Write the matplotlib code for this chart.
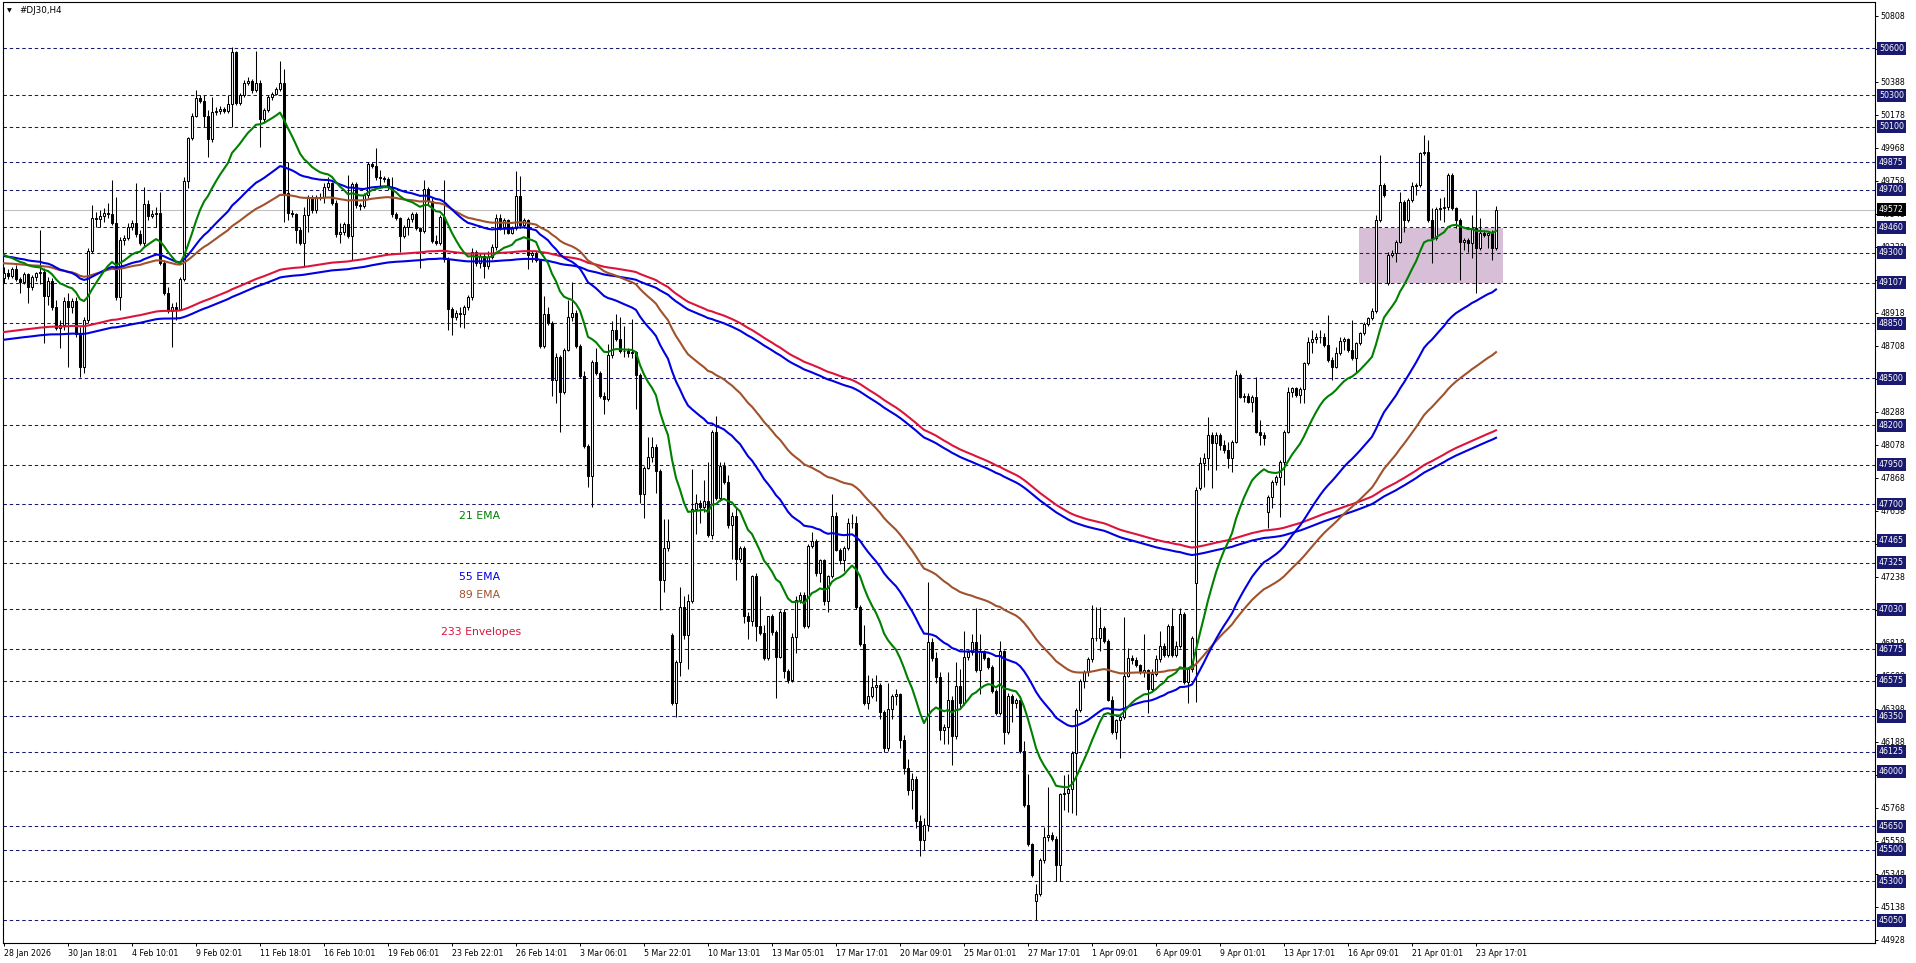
import numpy as np
import matplotlib
matplotlib.use("Agg")
import matplotlib.pyplot as plt
from matplotlib.patches import Rectangle
from matplotlib.transforms import blended_transform_factory

# ---------------- data ----------------
opens = [
49136,49172,49151,49193,49130,49115,49164,49079,49142,49168,
49178,49024,49121,48951,48818,48839,48994,48951,48994,48782,
48570,48871,49312,49518,49511,49533,49554,49545,49490,49019,
49380,49390,49465,49486,49418,49359,49609,49533,49545,49554,
49236,49040,48930,48956,48939,49130,49757,50027,50169,50281,
50266,50169,50020,50196,50203,50211,50203,50245,50578,50249,
50302,50381,50394,50334,50381,50148,50207,50292,50309,50338,
50381,49681,49554,49545,49444,49363,49539,49645,49571,49651,
49656,49719,49745,49617,49418,49433,49482,49405,49736,49603,
49596,49666,49863,49851,49783,49772,49766,49719,49545,49518,
49405,49460,49511,49545,49454,49440,49702,49630,49376,49363,
49528,49257,48939,48888,48917,48909,48951,49015,49305,49235,
49280,49217,49273,49335,49523,49462,49507,49426,49455,49660,
49478,49507,49285,49296,49251,48705,48910,48853,48489,48637,
48410,48682,48887,48917,48705,48512,48069,47876,48603,48535,
48387,48371,48648,48807,48751,48671,48676,48660,48667,48523,
47762,47932,48001,48062,47910,47217,47421,46864,46433,46694,
47046,46864,47080,47671,47705,47682,47717,47501,48160,47739,
47944,47842,47569,47626,47353,47421,46989,46955,47239,46921,
46876,46717,46989,46887,46728,47012,46637,46580,46853,47092,
47121,46921,47433,47467,47262,47342,47080,47239,47626,47410,
47342,47421,47580,47576,47046,46808,46433,46478,46535,46546,
46376,46150,46398,46478,46490,46200,46020,45880,45950,45680,
45560,45660,46819,46717,46600,46260,46280,46455,46225,46543,
46433,46729,46757,46823,46641,46762,46718,46663,46510,46367,
46762,46247,46477,46433,46451,46126,45786,45534,45172,45216,
45436,45578,45596,45567,45403,45852,45863,45885,46115,46389,
46575,46630,46714,46845,46849,46911,46828,46455,46247,46323,
46345,46608,46722,46707,46674,46630,46641,46521,46619,46714,
46795,46740,46926,46740,46795,47003,46565,46652,47195,47800,
47959,47991,48139,48086,48139,48076,48044,47991,48097,48521,
48383,48388,48352,48379,48161,48139,47652,47747,47842,47874,
47970,48161,48415,48436,48394,48430,48595,48733,48750,48765,
48761,48712,48617,48574,48659,48740,48748,48680,48627,48723,
48786,48846,48882,48931,49508,49730,49105,49285,49300,49370,
49624,49508,49635,49724,49730,49932,49943,49508,49391,49575,
49582,49588,49794,49582,49508,49370,49380,49359,49455,49327,
49423,49412,49423,49327]

highs = [
49206,49193,49206,49221,49147,49178,49172,49157,49178,49444,
49200,49147,49136,48998,48871,49019,49040,49009,49019,48828,
48892,49327,49602,49560,49571,49581,49613,49762,49656,49401,
49412,49486,49507,49740,49444,49719,49634,49571,49592,49687,
49252,49083,48977,48987,49147,49783,50037,50186,50334,50302,
50302,50207,50292,50224,50232,50228,50302,50610,50585,50313,
50398,50419,50402,50585,50398,50218,50302,50324,50355,50521,
50466,49878,49571,49554,49465,49592,49666,49666,49666,49677,
49740,49783,49751,49634,49486,49497,49793,49751,49751,49617,
49677,49878,49878,49963,49825,49787,49783,49783,49560,49528,
49475,49528,49560,49560,49465,49762,49719,49645,49412,49539,
49762,49274,48956,48934,48956,48966,49030,49327,49319,49296,
49296,49307,49353,49546,49546,49523,49516,49467,49819,49785,
49523,49512,49307,49307,49262,49023,48955,48864,48660,48648,
48694,49001,49114,48932,48717,48546,48080,48614,48694,48546,
48410,48717,48864,48910,48887,48830,48694,48876,48676,48535,
47944,48126,48126,48080,47921,47603,47603,46876,46705,47171,
47114,47126,47921,47762,47728,47853,47967,48171,48262,47967,
47967,47887,47648,47682,47433,47433,47012,47251,47262,47114,
46932,46989,47001,46898,47023,47035,46648,46876,47114,47137,
47137,47444,47524,47478,47353,47353,47251,47762,47648,47421,
47433,47614,47637,47626,47058,46932,46614,46592,46614,46558,
46390,46558,46490,46520,46500,46230,46080,45990,45970,45720,
45700,47205,46850,46760,46630,46301,46630,46477,46696,46652,
46893,46773,46871,47036,46871,46773,46729,46674,46521,46827,
46773,46499,46488,46466,46477,46192,45984,45545,45282,45446,
45644,45896,45611,45589,45863,45973,45984,46126,46400,46586,
46641,46729,47058,47047,47047,46926,46838,46477,46334,46356,
46981,46784,46740,46729,46685,46871,46652,46652,46740,46893,
46817,46937,47036,46827,47036,47014,46663,46860,47810,48002,
48023,48256,48161,48161,48150,48108,48097,48108,48553,48532,
48405,48405,48394,48511,48235,48161,47757,47853,47885,47980,
48171,48447,48447,48447,48447,48606,48765,48808,48786,48808,
48786,48903,48634,48702,48765,48765,48755,48871,48733,48797,
48861,48892,48946,49539,49921,49741,49306,49317,49380,49688,
49635,49645,49752,49741,49943,50049,50017,49582,49592,49645,
49656,49805,49809,49592,49518,49391,49391,49539,49699,49518,
49444,49433,49444,49597]

lows = [
49104,49130,49136,49121,49040,49100,48977,49062,49121,49100,
48722,48966,48934,48807,48690,48807,48574,48913,48765,48510,
48531,48850,49299,49465,49465,49497,49518,49475,48998,48934,
49348,49380,49444,49401,49348,49337,49507,49518,49465,49221,
49030,48913,48701,48871,48934,49121,49709,50016,50160,50250,
50101,49910,50006,50175,50182,50186,50186,50101,50239,50239,
50292,50366,50313,50324,49974,50133,50196,50271,50302,50330,
49496,49507,49528,49359,49348,49210,49433,49554,49550,49634,
49613,49698,49603,49401,49359,49412,49390,49252,49581,49571,
49581,49645,49836,49762,49719,49751,49698,49528,49507,49306,
49390,49412,49497,49444,49200,49422,49603,49359,49348,49348,
49242,48807,48775,48871,48828,48818,48934,48998,49217,49205,
49137,49194,49262,49319,49444,49421,49417,49417,49444,49455,
49455,49194,49239,49239,48694,48694,48842,48387,48342,48160,
48398,48671,48864,48694,48501,48057,47808,47682,48523,48376,
48273,48353,48626,48739,48660,48637,48637,48626,48307,47705,
47614,47921,47967,47773,47023,47137,47398,46421,46342,46603,
46842,46648,47069,47512,47580,47648,47489,47478,47728,47717,
47830,47546,47353,47217,47330,46944,46842,46921,46830,46864,
46705,46705,46864,46467,46717,46592,46558,46569,46751,47069,
46910,46910,47421,47240,47205,47058,47012,47228,47398,47319,
47273,47410,47546,47035,46796,46421,46398,46467,46444,46330,
46120,46130,46330,46420,46150,45980,45850,45760,45640,45460,
45500,45620,46700,46560,46200,46170,46170,46038,46203,46400,
46422,46707,46740,46630,46488,46707,46652,46499,46356,46356,
46170,46236,46312,46400,46115,45775,45523,45326,45052,45205,
45414,45556,45556,45304,45304,45754,45743,45732,45721,46378,
46532,46608,46696,46828,46762,46817,46444,46236,46203,46082,
46334,46597,46685,46663,46619,46597,46367,46510,46608,46696,
46729,46729,46729,46729,46784,46554,46433,46630,46440,47789,
47811,47917,47800,47917,48044,48023,47927,47906,48086,48373,
48352,48341,48288,48150,48076,48076,47545,47673,47821,47620,
47821,48150,48383,48383,48341,48341,48585,48659,48723,48727,
48702,48606,48489,48564,48648,48680,48670,48617,48532,48712,
48776,48833,48871,48914,49497,49656,49094,49274,49242,49359,
49433,49497,49624,49667,49720,49921,49497,49232,49380,49508,
49497,49571,49571,49455,49126,49317,49306,49264,49041,49317,
49402,49327,49253,49317]

closes = [
49172,49151,49193,49130,49115,49164,49079,49142,49168,49178,
49024,49121,48951,48818,48839,48994,48951,48994,48782,48570,
48871,49312,49518,49511,49533,49554,49545,49490,49019,49380,
49390,49465,49486,49418,49359,49609,49533,49545,49554,49236,
49040,48930,48956,48939,49130,49757,50027,50169,50281,50266,
50169,50020,50196,50203,50211,50203,50245,50578,50249,50302,
50381,50394,50334,50381,50148,50207,50292,50309,50338,50381,
49681,49554,49545,49444,49363,49539,49645,49571,49651,49656,
49719,49745,49617,49418,49433,49482,49405,49736,49603,49596,
49666,49863,49851,49783,49772,49766,49719,49545,49518,49405,
49460,49511,49545,49454,49440,49702,49630,49376,49363,49528,
49257,48939,48888,48917,48909,48951,49015,49306,49235,49280,
49217,49273,49335,49523,49462,49507,49426,49455,49660,49478,
49507,49285,49296,49251,48705,48910,48853,48489,48637,48410,
48682,48887,48917,48705,48512,48069,47876,48603,48535,48387,
48371,48648,48807,48751,48671,48676,48660,48667,48523,47762,
47932,48001,48062,47910,47217,47421,47462,46433,46694,47046,
46864,47080,47671,47705,47682,47717,47501,48160,47739,47944,
47842,47569,47626,47353,47421,46989,46955,47239,46921,46876,
46717,46989,46887,46728,47012,46637,46580,46853,47092,47121,
46921,47433,47467,47262,47342,47080,47239,47626,47410,47342,
47421,47580,47576,47046,46808,46433,46478,46535,46546,46376,
46150,46398,46478,46490,46200,46020,45880,45950,45680,45560,
45660,46819,46717,46600,46260,46280,46455,46225,46543,46433,
46729,46757,46823,46641,46762,46718,46663,46510,46367,46762,
46247,46477,46433,46451,46126,45786,45534,45337,45216,45436,
45578,45596,45567,45403,45852,45863,45885,46115,46389,46575,
46630,46714,46845,46849,46911,46828,46455,46247,46323,46345,
46608,46722,46707,46674,46630,46641,46521,46619,46714,46795,
46740,46926,46740,46795,47003,46565,46652,46849,47790,47959,
47991,48139,48086,48139,48076,48044,47991,48097,48521,48383,
48388,48352,48379,48161,48139,48118,47747,47842,47874,47970,
48161,48415,48436,48394,48430,48595,48733,48750,48765,48761,
48712,48617,48574,48659,48740,48748,48680,48627,48723,48786,
48846,48882,48931,49508,49730,49667,49285,49300,49370,49624,
49508,49635,49724,49730,49932,49943,49508,49391,49575,49582,
49588,49794,49582,49508,49370,49380,49359,49455,49327,49423,
49412,49423,49327,49571]

# EMA values at the first visible bar
ema21_start = 49285
ema55_start = 49278
ema89_start = 49232
env233_start = 48770
env_deviation = 0.0005

levels = [50600, 50300, 50100, 49875, 49700, 49460, 49300, 49107, 48850, 48500,
          48200, 47950, 47700, 47465, 47325, 47030, 46775, 46575, 46350, 46125,
          46000, 45650, 45500, 45300, 45050]
current_price = 49572
axis_prices = [44928, 45138, 45348, 45558, 45768, 45978, 46188, 46398, 46608, 46818,
               47028, 47238, 47448, 47658, 47868, 48078, 48288, 48498, 48708, 48918,
               49128, 49338, 49548, 49758, 49968, 50178, 50388, 50598, 50808]
time_labels = ['28 Jan 2026', '30 Jan 18:01', '4 Feb 10:01', '9 Feb 02:01', '11 Feb 18:01',
               '16 Feb 10:01', '19 Feb 06:01', '23 Feb 22:01', '26 Feb 14:01', '3 Mar 06:01',
               '5 Mar 22:01', '10 Mar 13:01', '13 Mar 05:01', '17 Mar 17:01', '20 Mar 09:01',
               '25 Mar 01:01', '27 Mar 17:01', '1 Apr 09:01', '6 Apr 09:01', '9 Apr 01:01',
               '13 Apr 17:01', '16 Apr 09:01', '21 Apr 01:01', '23 Apr 17:01']
time_label_bars = [0, 16, 32, 48, 64, 80, 96, 112, 128, 144, 160, 176, 192, 208, 224,
                   240, 256, 272, 288, 304, 320, 336, 352, 368]
zone_low, zone_high = 49107, 49455
zone_bars = (338.75, 374.75)

# ---------------- helpers ----------------
def ema(values, period, start):
    a = 2.0 / (period + 1.0)
    out = [float(start)]
    for v in values[1:]:
        out.append(out[-1] + a * (v - out[-1]))
    return np.array(out)

plt.rcParams['font.family'] = ['DejaVu Sans']

W, H = 1916, 963
fig = plt.figure(figsize=(W / 100, H / 100), dpi=100)
left_px, right_px, top_px, bot_px = 3, 1875, 2.5, 943
ax = fig.add_axes([left_px / W, 1 - bot_px / H, (right_px - left_px) / W, (bot_px - top_px) / H])

o = np.array(opens, float)
h = np.array(highs, float)
l = np.array(lows, float)
c = np.array(closes, float)
h = np.maximum(h, np.maximum(o, c))
l = np.minimum(l, np.minimum(o, c))
x = np.arange(len(c))

# zone rectangle
ax.add_patch(Rectangle((zone_bars[0], zone_low), zone_bars[1] - zone_bars[0], zone_high - zone_low,
                       facecolor='#D8BFD8', edgecolor='none', zorder=0.5))

# level lines
for lv in levels:
    ax.axhline(lv, color='#191970', lw=0.75, ls=(0, (3.3, 2.7)), zorder=1)
ax.axhline(current_price, color='#C0C0C0', lw=0.75, zorder=1)

# candles
ax.vlines(x, l, h, color='black', lw=0.75, zorder=3)
up = c >= o
bottom = np.minimum(o, c)
height = np.abs(c - o)
ax.bar(x[up], height[up], 0.5, bottom=bottom[up], color='white', edgecolor='black', linewidth=0.75, zorder=4)
ax.bar(x[~up], height[~up], 0.5, bottom=bottom[~up], color='black', edgecolor='black', linewidth=0.75, zorder=4)

# indicators
e21 = ema(closes, 21, ema21_start)
e55 = ema(closes, 55, ema55_start)
e89 = ema(closes, 89, ema89_start)
e233 = ema(closes, 233, env233_start)
ax.plot(x, e233 * (1 + env_deviation), color='#DC143C', lw=1.5, zorder=5)
ax.plot(x, e233 * (1 - env_deviation), color='#0000E0', lw=1.5, zorder=5)
ax.plot(x, e89, color='#A0522D', lw=1.5, zorder=5)
ax.plot(x, e55, color='#0000E0', lw=1.5, zorder=5)
ax.plot(x, e21, color='#008000', lw=1.5, zorder=5)

# text objects
ax.text(113.75, 47624, '21 EMA', color='#008000', fontsize=7.8, va='center', ha='left', zorder=6)
ax.text(113.75, 47234, '55 EMA', color='#0000E0', fontsize=7.8, va='center', ha='left', zorder=6)
ax.text(113.75, 47121, '89 EMA', color='#A0522D', fontsize=7.8, va='center', ha='left', zorder=6)
ax.text(109.2, 46884, '233 Envelopes', color='#DC143C', fontsize=7.8, va='center', ha='left', zorder=6)

# axes limits
ax.set_xlim((left_px - 4) / 4.0, (right_px - 4) / 4.0)
ax.set_ylim(50600 - (bot_px - 48.3) / 0.15714, 50600 + (48.3 - top_px) / 0.15714)

# right price axis
ax.yaxis.tick_right()
ax.set_yticks(axis_prices)
ax.set_yticklabels([str(p) for p in axis_prices])
ax.tick_params(axis='y', direction='out', length=2.2, width=0.7, labelsize=5.7, pad=2, colors='black')
ax.set_xticks(time_label_bars)
ax.set_xticklabels(time_labels, ha='left')
ax.tick_params(axis='x', direction='out', length=2.5, width=0.7, labelsize=5.7, pad=1.5, colors='black')
for s in ax.spines.values():
    s.set_color('black')
    s.set_linewidth(0.8)

trans = blended_transform_factory(ax.transAxes, ax.transData)
xf = (1879 - left_px) / (right_px - left_px)
for lv in levels:
    ax.text(xf, lv, str(lv), transform=trans, fontsize=5.7, color='white', va='center', ha='left',
            clip_on=False, zorder=10,
            bbox=dict(boxstyle='square,pad=0.25', facecolor='#191970', edgecolor='none'))
ax.text(xf, current_price, str(current_price), transform=trans, fontsize=5.7, color='white',
        va='center', ha='left', clip_on=False, zorder=11,
        bbox=dict(boxstyle='square,pad=0.25', facecolor='black', edgecolor='none'))

# title
fig.text(19 / W, 1 - 10.5 / H, '#DJ30,H4', fontsize=6.3, va='center', ha='left', color='black')
fig.text(7 / W, 1 - 10.5 / H, '\u25BC', fontsize=4.5, va='center', ha='left', color='black')

fig.savefig('out.png', dpi=100, facecolor='white')
